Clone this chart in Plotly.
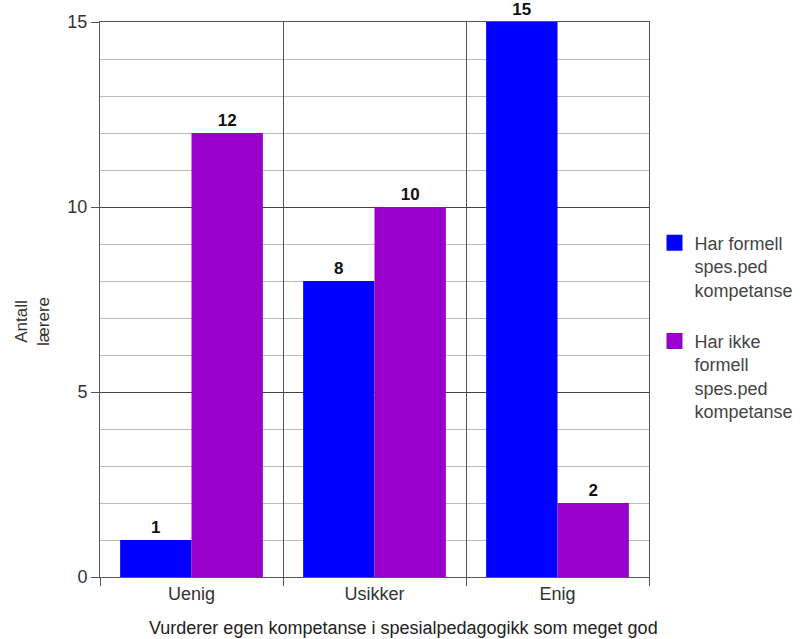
import plotly.graph_objects as go

categories = ["Uenig", "Usikker", "Enig"]
series_names = ["Har formell<br>spes.ped<br>kompetanse", "Har ikke<br>formell<br>spes.ped<br>kompetanse"]
formell = [1, 8, 15]
ikke_formell = [12, 10, 2]
colors = ["#0000ff", "#9900cc"]

FONT = "Liberation Sans, Arial, sans-serif"

fig = go.Figure()
for i, (name, vals) in enumerate(zip(series_names, [formell, ikke_formell])):
    fig.add_trace(go.Bar(
        x=categories, y=vals, name=name,
        marker=dict(color=colors[i], line=dict(width=0)),
        text=[str(v) for v in vals], textposition="outside",
        textfont=dict(family=FONT, size=17, color="#111111", weight="bold"),
        cliponaxis=False, legendgroup=f"g{i}", showlegend=False,
    ))
# legend entries with larger square swatches
for i, name in enumerate(series_names):
    fig.add_trace(go.Scatter(
        x=[None], y=[None], mode="markers", name=name,
        marker=dict(symbol="square", size=16, color=colors[i]),
        legendgroup=f"g{i}", showlegend=True,
    ))

fig.update_layout(
    width=805, height=639,
    margin=dict(l=100, r=156, t=22, b=62, autoexpand=False),
    paper_bgcolor="white", plot_bgcolor="white",
    barmode="group", bargap=0.22, bargroupgap=0,
    font=dict(family=FONT, size=18, color="#333333"),
    showlegend=True,
    legend=dict(x=1.01, y=0.635, xanchor="left", yanchor="top",
                font=dict(family=FONT, size=18, color="#444444"),
                traceorder="grouped", tracegroupgap=25, valign="top",
                itemwidth=30, bgcolor="rgba(0,0,0,0)"),
    xaxis=dict(
        type="category", tickson="boundaries", showgrid=True,
        gridcolor="#555555", gridwidth=1,
        showline=True, linecolor="#555555", linewidth=1, mirror=True,
        ticks="outside", ticklen=8, tickcolor="#555555",
        tickfont=dict(family=FONT, size=18, color="#333333"),
    ),
    yaxis=dict(
        range=[0, 15], tickvals=[0, 5, 10, 15], showgrid=True,
        gridcolor="#444444", gridwidth=1, zeroline=False,
        showline=True, linecolor="#555555", linewidth=1, mirror=True,
        ticks="outside", ticklen=8, tickcolor="#555555",
        tickfont=dict(family=FONT, size=18, color="#333333"),
        minor=dict(dtick=1, showgrid=True, gridcolor="#bbbbbb", gridwidth=1, ticks=""),
    ),
    annotations=[
        dict(text="Antall<br>lærere", textangle=-90, xref="paper", yref="paper",
             x=-0.124, y=0.461, xanchor="center", yanchor="middle", showarrow=False,
             font=dict(family=FONT, size=17, color="#333333")),
        dict(text="Vurderer egen kompetanse i spesialpedagogikk som meget god",
             xref="paper", yref="paper", x=0.552, y=-0.092,
             xanchor="center", yanchor="middle", showarrow=False,
             font=dict(family=FONT, size=18, color="#222222")),
    ],
)

fig.write_html("out.html")
